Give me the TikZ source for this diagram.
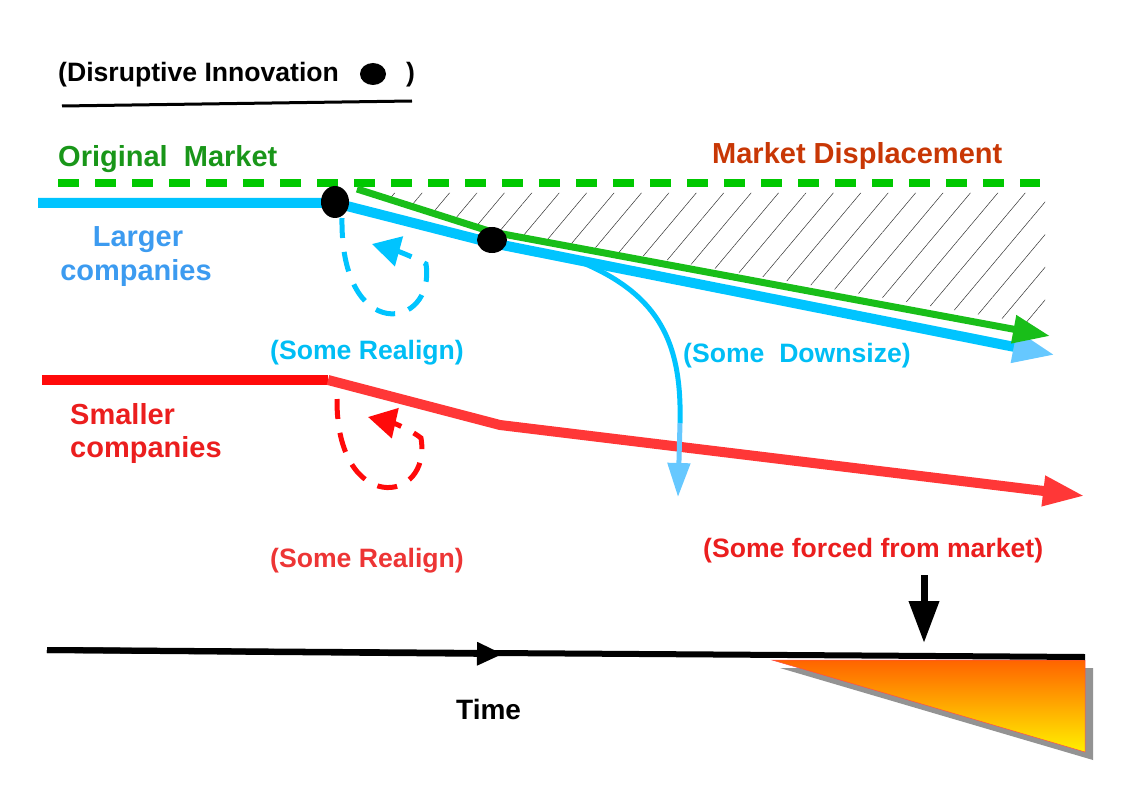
\documentclass[tikz,border=0pt]{standalone}
\usepackage{fontspec}
\setmainfont{Liberation Sans}
\usetikzlibrary{arrows.meta,shapes.geometric,patterns.meta}
\definecolor{LineBlue}{RGB}{0,196,255}
\definecolor{TipBlue}{RGB}{102,200,255}
\definecolor{TextBlue}{RGB}{60,155,240}
\definecolor{SkyText}{RGB}{0,190,245}
\definecolor{DashGreen}{RGB}{0,200,0}
\definecolor{LineGreen}{RGB}{25,190,25}
\definecolor{TextGreen}{RGB}{25,150,25}
\definecolor{DispRed}{RGB}{200,55,5}
\definecolor{LineRed}{RGB}{255,10,10}
\definecolor{LightRed}{RGB}{255,55,55}
\definecolor{TextRed}{RGB}{235,30,30}
\definecolor{ShadeOrange}{RGB}{255,100,0}
\definecolor{ShadeYellow}{RGB}{255,240,0}

\begin{document}
\begin{tikzpicture}[
    x=1pt, y=-1pt,
    lbl/.style={
        font=\fontsize{26.6}{31}\selectfont\bfseries,
        inner sep=0pt,
        anchor=base west
    },
    biglbl/.style={
        lbl,
        font=\fontsize{29}{33}\selectfont\bfseries
    },
    dot/.style={
        ellipse,
        fill=black,
        inner sep=0pt
    },
    realign/.style={
        line width=5pt,
        dash pattern=on 20pt off 14pt
    }
]
\useasboundingbox (0,0) rectangle (1123,794);

% Legend
\node[lbl] (legend) at (58,82) {(Disruptive Innovation};
\node[dot, minimum width=26pt, minimum height=22pt] (legdot) at (373,74) {};
\node[lbl] (legclose) at (406,82) {)};
\coordinate (ulA) at (62,106);
\coordinate (ulB) at (412,101);
\draw[line width=3pt] (ulA) -- (ulB);

% Labels
\node[biglbl, text=TextGreen] (orig) at (58,167) {Original\ \ Market};
\node[biglbl, text=DispRed] (disp) at (712,164) {Market Displacement};
\node[biglbl, text=TextBlue, anchor=base] (larger) at (138,247) {Larger};
\node[biglbl, text=TextBlue, anchor=base] (largerb) at (136,280) {companies};
\node[lbl, text=SkyText] (realignA) at (270,359) {(Some Realign)};
\node[lbl, text=SkyText] (downsize) at (683,362) {(Some\ \ Downsize)};
\node[biglbl, text=TextRed] (smaller) at (70,424) {Smaller};
\node[biglbl, text=TextRed] (smallerb) at (70,457) {companies};
\node[lbl, text=TextRed!90] (realignB) at (270,567) {(Some Realign)};
\node[lbl, text=TextRed] (forced) at (703,557) {(Some forced from market)};
\node[lbl, font=\fontsize{28}{32}\selectfont\bfseries] (time) at (456,719) {Time};

% Displaced market (hatched)
\coordinate (hA) at (362,193);
\coordinate (hB) at (1045,193);
\coordinate (hC) at (1045,326);
\coordinate (hD) at (494,230);
\fill[pattern={Lines[angle=50,distance=21pt,line width=0.5pt]}, pattern color=black!80]
    (hA) -- (hB) -- (hC) -- (hD) -- cycle;

% Original market
\coordinate (omA) at (58,183);
\coordinate (omB) at (1040,183);
\draw[DashGreen, line width=8pt, dash pattern=on 21pt off 16pt] (omA) -- (omB);

% Larger companies
\coordinate (lcA) at (38,203);
\coordinate (lcB) at (335,203);
\coordinate (lcC) at (492,243);
\coordinate (lcD) at (1055,355);
\draw[LineBlue, line width=10pt, line join=round,
      -{Triangle[length=42pt,width=30pt,color=TipBlue]}]
    (lcA) -- (lcB) -- (lcC) -- (lcD);

% Green market line
\coordinate (gmA) at (357,189);
\coordinate (gmB) at (492,232);
\coordinate (gmC) at (1050,336);
\draw[LineGreen, line width=7pt, line join=round,
      -{Triangle[length=37pt,width=27pt]}]
    (gmA) -- (gmB) -- (gmC);

% Innovation points
\node[dot, minimum width=28pt, minimum height=32pt] (inno1) at (335,202) {};
\node[dot, minimum width=30pt, minimum height=26pt] (inno2) at (492,240) {};

% Some realign (larger)
\coordinate (raA) at (342,218);
\coordinate (raB) at (426,264);
\coordinate (raC) at (372,244);
\draw[LineBlue, realign, -{Triangle[length=28pt,width=30pt]}]
    (raA) .. controls (340,345) and (436,330) .. (raB)
          .. controls (412,256) and (394,250) .. (raC);

% Some downsize
\coordinate (dsA) at (568,257);
\coordinate (dsB) at (680,423);
\coordinate (dsC) at (678,497);
\draw[LineBlue, line width=5pt]
    (dsA) .. controls (658,290) and (682,340) .. (dsB);

% Smaller companies
\coordinate (scA) at (42,380);
\coordinate (scB) at (328,380);
\coordinate (scC) at (500,425);
\coordinate (scD) at (1085,496);
\draw[LineRed, line width=10pt] (scA) -- (scB);
\draw[LightRed, line width=10pt, line join=round,
      -{Triangle[length=42pt,width=28pt]}]
    (scB) -- (scC) -- (scD);

\draw[TipBlue, line width=5pt, -{Triangle[length=34pt,width=22pt]}]
    (dsB) -- (dsC);

% Some realign (smaller)
\coordinate (rbA) at (337,399);
\coordinate (rbB) at (421,438);
\coordinate (rbC) at (368,417);
\draw[LineRed, realign, -{Triangle[length=28pt,width=30pt]}]
    (rbA) .. controls (336,515) and (432,505) .. (rbB)
          .. controls (408,428) and (390,422) .. (rbC);

% Time axis
\coordinate (taA) at (47,650);
\coordinate (taM) at (503,654);
\coordinate (taB) at (1085,657);
\coordinate (fwA) at (772,660);
\coordinate (fwB) at (1085,660);
\coordinate (fwC) at (1085,752);
\fill[gray!85] ([shift={(8,8)}]fwA) -- ([shift={(8,8)}]fwB) -- ([shift={(8,8)}]fwC) -- cycle;
\shade[top color=ShadeOrange, bottom color=ShadeYellow, draw=red!70, line width=0.5pt]
    (fwA) -- (fwB) -- (fwC) -- cycle;
\draw[line width=6pt] (taA) -- (taB);
\draw[line width=6pt, -{Triangle[length=26pt,width=22pt]}] (taA) -- (taM);

% Forced-out marker
\coordinate (foA) at (924,575);
\coordinate (foB) at (924,643);
\draw[line width=7pt, -{Triangle[length=42pt,width=29pt]}] (foA) -- (foB);

\end{tikzpicture}
\end{document}
